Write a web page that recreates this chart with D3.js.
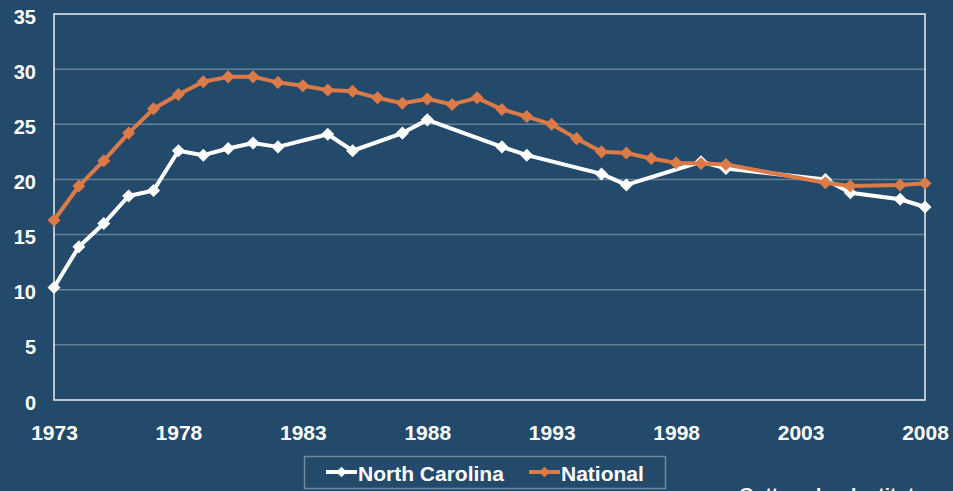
<!DOCTYPE html>
<html>
<head>
    <meta charset="utf-8"/>
    <style>
        html, body {
            margin: 0;
            padding: 0;
            background: #244a6b;
            overflow: hidden;
        }

        text {
            font-family: Arial, "Liberation Sans", sans-serif;
            font-weight: bold;
            fill: #ffffff;
        }
    </style>
</head>

<body>
<div id="chart"></div>
<script type="text/javascript" src="https://cdnjs.cloudflare.com/ajax/libs/d3/7.8.5/d3.min.js"></script>
<script type="text/javascript">

    var w = 953;
    var h = 491;
    var plotLeft = 54;
    var plotRight = 925;
    var plotTop = 14;
    var plotBottom = 400;

    // rates
    var ncYears = [1973, 1974, 1975, 1976, 1977, 1978, 1979, 1980, 1981, 1982, 1984, 1985, 1987, 1988,
        1991, 1992, 1995, 1996, 1999, 2000, 2004, 2005, 2007, 2008];
    var ncValues = [10.2, 13.9, 16.0, 18.5, 19.0, 22.6, 22.2, 22.8, 23.3, 22.95, 24.1, 22.6, 24.2, 25.4,
        22.95, 22.2, 20.5, 19.5, 21.6, 21.0, 20.0, 18.8, 18.2, 17.5];

    var natYears = [1973, 1974, 1975, 1976, 1977, 1978, 1979, 1980, 1981, 1982, 1983, 1984, 1985, 1986,
        1987, 1988, 1989, 1990, 1991, 1992, 1993, 1994, 1995, 1996, 1997, 1998, 1999, 2000,
        2004, 2005, 2007, 2008];
    var natValues = [16.3, 19.4, 21.7, 24.2, 26.4, 27.7, 28.85, 29.3, 29.3, 28.8, 28.5, 28.1, 28.0, 27.4,
        26.9, 27.3, 26.8, 27.4, 26.35, 25.7, 25.0, 23.7, 22.5, 22.4, 21.9, 21.5, 21.45, 21.35,
        19.7, 19.4, 19.5, 19.65];

    var xTicks = [1973, 1978, 1983, 1988, 1993, 1998, 2003, 2008];
    var yTicks = [0, 5, 10, 15, 20, 25, 30, 35];
    var seriesNames = ["North Carolina", "National"];
    var seriesColors = ["#ffffff", "#dc7a48"];

    var xScale = d3.scaleLinear()
        .domain([1973, 2008])
        .range([plotLeft, plotRight]);
    var yScale = d3.scaleLinear()
        .domain([0, 35])
        .range([plotBottom, plotTop]);

    var svg = d3.select("#chart")
        .append("svg")
        .attr("width", w)
        .attr("height", h);

    // gridlines
    svg.append("g")
        .selectAll("line")
        .data(yTicks.filter(function (d) { return d > 0 && d < 35; }))
        .enter()
        .append("line")
        .attr("x1", plotLeft)
        .attr("x2", plotRight)
        .attr("y1", function (d) { return yScale(d); })
        .attr("y2", function (d) { return yScale(d); })
        .attr("stroke", "#ffffff")
        .attr("stroke-opacity", 0.3)
        .attr("stroke-width", 1.5);

    // plot frame
    svg.append("rect")
        .attr("x", plotLeft)
        .attr("y", plotTop)
        .attr("width", plotRight - plotLeft)
        .attr("height", plotBottom - plotTop)
        .attr("fill", "none")
        .attr("stroke", "#ffffff")
        .attr("stroke-opacity", 0.9)
        .attr("stroke-width", 1.5);

    // y-axis labels
    var yAxis = d3.axisLeft(yScale).tickValues(yTicks).tickSize(0).tickPadding(18);
    var gy = svg.append("g")
        .attr("transform", "translate(" + plotLeft + ",0)")
        .call(yAxis);
    gy.select(".domain").remove();
    gy.selectAll("text")
        .attr("font-size", 20)
        .attr("font-family", null)
        .attr("dy", "0.45em");

    // x-axis labels
    var xAxis = d3.axisBottom(xScale).tickValues(xTicks).tickFormat(d3.format("d")).tickSize(0).tickPadding(25);
    var gx = svg.append("g")
        .attr("transform", "translate(0," + plotBottom + ")")
        .call(xAxis);
    gx.select(".domain").remove();
    gx.selectAll("text")
        .attr("font-size", 21)
        .attr("font-family", null);

    var line = d3.line()
        .x(function (d) { return xScale(d[0]); })
        .y(function (d) { return yScale(d[1]); });

    // rotated square markers
    var marker = d3.symbol().type(d3.symbolSquare).size(85);
    var legendMarker = d3.symbol().type(d3.symbolSquare).size(55);

    function drawSeries(years, values, color) {
        var pts = years.map(function (y, i) { return [y, values[i]]; });
        var g = svg.append("g");
        g.append("path")
            .datum(pts)
            .attr("d", line)
            .attr("fill", "none")
            .attr("stroke", color)
            .attr("stroke-width", 4)
            .attr("stroke-linejoin", "round");
        g.selectAll(".pt")
            .data(pts)
            .enter()
            .append("path")
            .attr("class", "pt")
            .attr("d", marker)
            .attr("transform", function (d) {
                return "translate(" + xScale(d[0]) + "," + yScale(d[1]) + ") rotate(45)";
            })
            .attr("fill", color);
    }

    drawSeries(ncYears, ncValues, seriesColors[0]);
    drawSeries(natYears, natValues, seriesColors[1]);

    // legend
    var legend = svg.append("g");
    legend.append("rect")
        .attr("x", 304.5)
        .attr("y", 456.5)
        .attr("width", 361)
        .attr("height", 32)
        .attr("fill", "none")
        .attr("stroke", "#ffffff")
        .attr("stroke-opacity", 0.35)
        .attr("stroke-width", 1.5);

    var legendX = [326, 529];
    seriesNames.forEach(function (name, i) {
        var lx = legendX[i];
        legend.append("line")
            .attr("x1", lx)
            .attr("x2", lx + 31)
            .attr("y1", 472)
            .attr("y2", 472)
            .attr("stroke", seriesColors[i])
            .attr("stroke-width", 4);
        legend.append("path")
            .attr("d", legendMarker)
            .attr("transform", "translate(" + (lx + 15.5) + ",472) rotate(45)")
            .attr("fill", seriesColors[i]);
        legend.append("text")
            .attr("x", lx + 32)
            .attr("y", 481)
            .attr("font-size", 21)
            .text(name);
    });

    // source, cut off by the bottom edge
    svg.append("text")
        .attr("x", 739)
        .attr("y", 501)
        .attr("font-size", 19)
        .text("Guttmacher Institute");

</script>
</body>
</html>
